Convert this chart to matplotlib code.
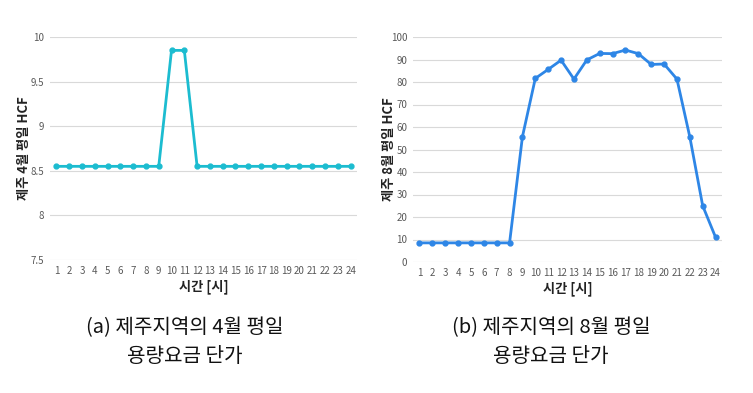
import matplotlib
matplotlib.use("Agg")
import matplotlib.pyplot as plt

plt.rcParams['font.family'] = ['Noto Sans CJK KR', 'DejaVu Sans']

hours = list(range(1, 25))
april = [8.55] * 9 + [9.85, 9.85] + [8.55] * 13
august = [8.5, 8.5, 8.5, 8.5, 8.5, 8.5, 8.5, 8.5, 55.7, 81.6, 85.6, 89.7, 81.3, 89.8,
          92.7, 92.6, 94.2, 92.6, 87.8, 88.0, 81.3, 55.6, 25.0, 11.0]

april_ticks = [7.5, 8, 8.5, 9, 9.5, 10]
april_ticklabels = ['7.5', '8', '8.5', '9', '9.5', '10']
aug_ticks = list(range(0, 101, 10))

ylabel_a = '제주 4월 평일 HCF'
ylabel_b = '제주 8월 평일 HCF'
xlabel = '시간 [시]'
cap_a = ['(a) 제주지역의 4월 평일', '용량요금 단가']
cap_b = ['(b) 제주지역의 8월 평일', '용량요금 단가']

W, H = 753, 393
fig = plt.figure(figsize=(W / 100, H / 100), dpi=100)

def setup(ax, ticks, labels, ylim):
    ax.set_xlim(0.5, 24.5)
    ax.set_ylim(*ylim)
    ax.set_yticks(ticks)
    ax.set_yticklabels(labels)
    ax.set_xticks(hours)
    ax.set_xticklabels([str(h) for h in hours])
    for s in ax.spines.values():
        s.set_visible(False)
    ax.grid(axis='y', color='#d9d9d9', linewidth=0.8)
    ax.set_axisbelow(True)
    ax.tick_params(axis='both', length=0, labelsize=7, labelcolor='#595959', pad=4)
    ax.set_xlabel(xlabel, fontsize=9.5, fontweight='bold', color='#222222', labelpad=3)

ax1 = fig.add_axes([50 / W, 1 - 260 / H, 307 / W, 223 / H])
setup(ax1, april_ticks, april_ticklabels, (7.5, 10))
ax1.plot(hours, april, color='#1cbcd0', linewidth=2, marker='o', markersize=3.5)
ax1.set_ylabel(ylabel_a, fontsize=9.5, fontweight='bold', color='#222222')
ax1.yaxis.set_label_coords(-0.062, 0.5)

ax2 = fig.add_axes([413 / W, 1 - 262 / H, 309 / W, 225 / H])
setup(ax2, aug_ticks, [str(t) for t in aug_ticks], (0, 100))
ax2.plot(hours, august, color='#2e86e6', linewidth=2, marker='o', markersize=3.5)
ax2.set_ylabel(ylabel_b, fontsize=9.5, fontweight='bold', color='#222222')
ax2.yaxis.set_label_coords(-0.055, 0.5)

for cx, cap in [(185, cap_a), (551, cap_b)]:
    fig.text(cx / W, 1 - 328 / H, cap[0], ha='center', va='center', fontsize=14.5,
             color='#111111')
    fig.text(cx / W, 1 - 357 / H, cap[1], ha='center', va='center', fontsize=14.5,
             color='#111111')

fig.savefig('out.png', dpi=100, facecolor='white')
